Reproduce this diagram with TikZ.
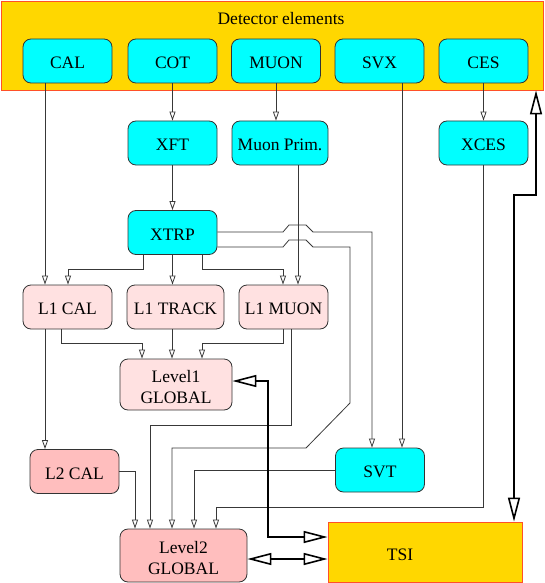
\documentclass[tikz,border=0pt]{standalone}
\usepackage{fontspec}
\setmainfont{Liberation Serif}
\usetikzlibrary{arrows.meta}
\definecolor{detgold}{RGB}{255,215,0}
\definecolor{detborder}{RGB}{255,80,40}
\definecolor{hwcyan}{RGB}{0,255,255}
\definecolor{lonepink}{RGB}{255,225,225}
\definecolor{ltwopink}{RGB}{255,190,190}
\newcommand{\bigfs}{\fontsize{17.5}{21}\selectfont}
\tikzset{
  hwbox/.style={draw=black!80, line width=0.8pt, rounded corners=8pt, inner sep=0pt,
    minimum width=89pt, minimum height=44pt, font=\bigfs, align=center,
    text height=15.5pt, text depth=0pt},
  cyanbox/.style={hwbox, fill=hwcyan},
  onebox/.style={hwbox, fill=lonepink},
  twobox/.style={hwbox, fill=ltwopink},
  twoline/.style={label={[font=\bigfs, align=center, yshift=-3pt]center:#1}},
  goldbox/.style={draw=detborder, line width=0.8pt, fill=detgold, inner sep=0pt, font=\bigfs},
  conn/.style={draw=black!78, line width=0.8pt, -{Triangle[open,length=9pt,width=6pt]}},
  bigconn/.style={draw=black, line width=1.6pt,
    {Triangle[open,length=24pt,width=12pt]}-{Triangle[open,length=24pt,width=12pt]}}
}
\begin{document}
\begin{tikzpicture}[x=1pt,y=-1pt]
\useasboundingbox (0,0) rectangle (545,583);
% detector frame
\node[goldbox, minimum width=542pt, minimum height=89pt] (DET) at (272,45.5) {};
\node[font=\bigfs] (DETL) at (281,18.5) {Detector elements};
% top row
\node[cyanbox] (CAL) at (67.5,61) {CAL};
\node[cyanbox] (COT) at (172.5,61) {COT};
\node[cyanbox] (MUON) at (276,61) {MUON};
\node[cyanbox] (SVX) at (379.5,61) {SVX};
\node[cyanbox] (CES) at (483.5,61) {CES};
% second row
\node[cyanbox] (XFT) at (172.5,143) {XFT};
\node[cyanbox, minimum width=96pt] (MP) at (280,143) {Muon Prim.};
\node[cyanbox] (XCES) at (483.5,143) {XCES};
\node[cyanbox] (XTRP) at (172.5,232.5) {XTRP};
% L1
\node[onebox] (L1CAL) at (67.5,307) {L1 CAL};
\node[onebox, minimum width=97pt] (L1TRACK) at (175.5,307) {L1 TRACK};
\node[onebox] (L1MUON) at (283.5,307) {L1 MUON};
\node[onebox, minimum width=112pt, minimum height=51pt, twoline={Level1\\GLOBAL}] (L1G) at (176,384.5) {};
% L2
\node[twobox] (L2CAL) at (74.5,471.5) {L2 CAL};
\node[cyanbox] (SVT) at (380,470) {SVT};
\node[twobox, minimum width=127pt, minimum height=53pt, twoline={Level2\\GLOBAL}] (L2G) at (183.5,555.5) {};
\node[goldbox, minimum width=194pt, minimum height=60pt,
      label={[font=\bigfs, xshift=-25pt, yshift=-3pt]center:TSI}] (TSI) at (425,552) {};
% thin connectors
\draw[conn] (45,0 |- CAL.south) -- (45,0 |- L1CAL.north);
\draw[conn] (COT.south) -- (XFT.north);
\draw[conn] (MUON.south) -- (MUON.south |- MP.north);
\draw[conn] (CES.south) -- (XCES.north);
\draw[conn] (XFT.south) -- (XTRP.north);
\draw[conn] (143,0 |- XTRP.south) -- (143,269) -- (68,269) -- (68,0 |- L1CAL.north);
\draw[conn] (172.5,0 |- XTRP.south) -- (172.5,0 |- L1TRACK.north);
\draw[conn] (202,0 |- XTRP.south) -- (202,269) -- (283,269) -- (283,0 |- L1MUON.north);
\draw[conn] (298,0 |- MP.south) -- (298,0 |- L1MUON.north);
\draw[conn] (XTRP.east |- 0,232) -- (283,232) -- (289,225) -- (306,225) -- (313,232)
  -- (372,232) -- (372,0 |- SVT.north);
\draw[conn] (XTRP.east |- 0,247) -- (283,247) -- (289,240) -- (306,240) -- (313,247)
  -- (350,247) -- (350,403) -- (306,448) -- (172,448) -- (172,0 |- L2G.north);
\draw[conn] (402,0 |- SVX.south) -- (402,0 |- SVT.north);
\draw[conn] (61,0 |- L1CAL.south) -- (61,343) -- (142,343) -- (142,0 |- L1G.north);
\draw[conn] (172,0 |- L1TRACK.south) -- (172,0 |- L1G.north);
\draw[conn] (283,0 |- L1MUON.south) -- (283,343) -- (202,343) -- (202,0 |- L1G.north);
\draw[conn] (45,0 |- L1CAL.south) -- (45,0 |- L2CAL.north);
\draw[conn] (291,0 |- L1MUON.south) -- (291,425) -- (150,425) -- (150,0 |- L2G.north);
\draw[conn] (L2CAL.east) -- (135,0 |- L2CAL.east) -- (135,0 |- L2G.north);
\draw[conn] (SVT.west) -- (194,0 |- SVT.west) -- (194,0 |- L2G.north);
\draw[conn] (XCES.south) -- (483.5,507) -- (216,507) -- (216,0 |- L2G.north);
% thick bidirectional connectors
\draw[bigconn] (L1G.east |- 0,381) -- (268,381) -- (268,537) -- (TSI.west |- 0,537);
\draw[bigconn] (L2G.east |- 0,559) -- (TSI.west |- 0,559);
\draw[bigconn] (514,0 |- TSI.north) -- (514,195) -- (536,195) -- (536,0 |- DET.south);
\end{tikzpicture}
\end{document}
